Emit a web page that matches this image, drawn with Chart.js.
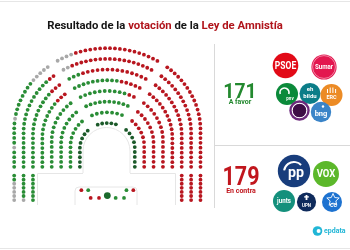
<!DOCTYPE html>
<html><head><meta charset="utf-8">
<script src="https://cdn.jsdelivr.net/npm/chart.js@4.4.1/dist/chart.umd.min.js"></script>
<style>html,body{margin:0;padding:0;background:#fff;overflow:hidden}canvas{display:block}</style>
</head><body>
<canvas id="c" width="350" height="250"></canvas>
<script>
// ===== DATA =====
const titleText = ['Resultado de la ', 'votación', ' de la ', 'Ley de Amnistía'];
const voteLabels = ['A favor', 'En contra'];
const voteTotals = [171, 179];
const favorParties = ['PSOE', 'Sumar', 'PNV', 'EH Bildu', 'ERC', 'Podemos', 'BNG'];
const contraParties = ['PP', 'VOX', 'Junts', 'UPN', 'CC'];
// seat codes: d = a favor (primera fila), g = a favor, r = en contra, x = otros, D = presidente
// rows: inner (0) -> outer (7)
const seatLeft = [          // from floor up to the left aisle
  'ddddddddd',
  'ggggggggggg',
  'ggggggggggggg',
  'ggggggggggggggg',
  'gggggggggggggggrrr',
  'gggggggggggggggggrrr',
  'ggggggggggggggggggggrr',
  'ggggxgggggxggggggggxxxxx'
];
const seatCenter = [        // left aisle -> right aisle
  'ddddd',
  'ggggggg',
  'gggggggggg',
  'ggggggggggrr',
  'ggggggggggrrrrr',
  'gggrrrrrrrrrrrrrr',
  'xxrrrrrrrrrrrrrrrrrr',
  'xxxxrrrrrrrrrrrrrrrrrr'
];
const seatRight = [         // right aisle down to the floor
  'ddddddddd',
  'rrrrrrrrrrr',
  'rrrrrrrrrrrrr',
  'rrrrrrrrrrrrrrr',
  'rrrrrrrrrrrrrrrrrr',
  'rrrrrrrrrrrrrrrrrrrr',
  'rrrrrrrrrrrrrrrrrrrrrr',
  'rrrrrrrrrrrrrrrrrrrrrrrr'
];
const blockLeft = ['ggxxxxx', 'ggggggx', 'ggggggg'];   // columns under rows 7,6,5
const blockRight = ['rrrrrrr', 'rrrrrrr', 'rrrrrrr']; // columns under rows 5,6,7
const benchTop = ['r', 'g', 'g', 'r'];
const benchBottom = ['r', 'r', 'D', 'g', 'g'];

// ===== LAYOUT / STYLE =====
const COLORS = { g: '#2a8d36', d: '#1c5a2a', r: '#b8161f', x: '#a8a8a8', D: '#1c6a2c' };
const G = { cx: 106, yBottom: 168, rows: 8, rx0: 28, rx1: 95, ry0: 26, ry1: 84, cy0: 149, cy1: 130,
            ox: 105, oy: 150, aisles: [122, 57], gap: 6, blockTop: 177, blockStep: 4.2 };

function rowParams(k) {
  const f = k / (G.rows - 1);
  return { rx: G.rx0 + (G.rx1 - G.rx0) * f, ry: G.ry0 + (G.ry1 - G.ry0) * f, cy: G.cy0 + (G.cy1 - G.cy0) * f };
}
function buildPath(k) {
  const p = rowParams(k), pts = [];
  const N = 80, M = 720;
  for (let i = 0; i <= N; i++) pts.push([G.cx - p.rx, G.yBottom - (G.yBottom - p.cy) * i / N]);
  for (let i = 1; i <= M; i++) { const t = Math.PI * (1 - i / M); pts.push([G.cx + p.rx * Math.cos(t), p.cy - p.ry * Math.sin(t)]); }
  for (let i = 1; i <= N; i++) pts.push([G.cx + p.rx, p.cy + (G.yBottom - p.cy) * i / N]);
  const s = [0];
  for (let i = 1; i < pts.length; i++) s.push(s[i - 1] + Math.hypot(pts[i][0] - pts[i - 1][0], pts[i][1] - pts[i - 1][1]));
  return { pts, s };
}
function angleAt(pt) { let a = Math.atan2(G.oy - pt[1], pt[0] - G.ox) * 180 / Math.PI; if (a < -90) a += 360; return a; }
function sAtAngle(path, deg) {
  for (let i = 1; i < path.pts.length; i++) if (angleAt(path.pts[i]) <= deg) return path.s[i];
  return path.s[path.s.length - 1];
}
function pointAt(path, sv) {
  const s = path.s, pts = path.pts;
  let i = 1; while (i < s.length - 1 && s[i] < sv) i++;
  const f = (sv - s[i - 1]) / ((s[i] - s[i - 1]) || 1);
  return [pts[i - 1][0] + (pts[i][0] - pts[i - 1][0]) * f, pts[i - 1][1] + (pts[i][1] - pts[i - 1][1]) * f];
}
const seats = [];
function place(path, s0, s1, codes) {
  const n = codes.length;
  for (let i = 0; i < n; i++) {
    const sv = n === 1 ? (s0 + s1) / 2 : s0 + (s1 - s0) * i / (n - 1);
    const [x, y] = pointAt(path, sv);
    seats.push({ x, y, code: codes[i] });
  }
}
for (let k = 0; k < G.rows; k++) {
  const path = buildPath(k);
  const total = path.s[path.s.length - 1];
  const sA = sAtAngle(path, G.aisles[0]), sB = sAtAngle(path, G.aisles[1]);
  place(path, 0, sA - G.gap, seatLeft[k]);
  place(path, sA + G.gap, sB - G.gap, seatCenter[k]);
  place(path, sB + G.gap, total, seatRight[k]);
}
blockLeft.forEach((col, j) => {
  const p = rowParams(G.rows - 1 - j);
  [...col].forEach((c, i) => seats.push({ x: G.cx - p.rx, y: G.blockTop + i * G.blockStep, code: c }));
});
blockRight.forEach((col, j) => {
  const p = rowParams(G.rows - 3 + j);
  [...col].forEach((c, i) => seats.push({ x: G.cx + p.rx, y: G.blockTop + i * G.blockStep, code: c }));
});
benchTop.forEach((c, i) => {
  const x = i < 2 ? G.cx - 26.5 + i * 7 : G.cx + 19.5 + (i - 2) * 7;
  seats.push({ x, y: 192, code: c });
});
benchBottom.forEach((c, i) => seats.push({ x: G.cx + (i - 2) * 8.5, y: c === 'D' ? 197.5 : 200, code: c }));

const datasets = Object.keys(COLORS).map(code => ({
  label: code,
  data: seats.filter(s => s.code === code).map(s => ({ x: s.x, y: s.y })),
  pointRadius: code === 'D' ? 3.4 : 1.9,
  pointHoverRadius: 0,
  pointBackgroundColor: COLORS[code],
  pointBorderWidth: 0,
  pointBorderColor: COLORS[code],
  showLine: false
}));

// ===== DECORATION =====
function circle(ctx, x, y, r, fill) { ctx.beginPath(); ctx.arc(x, y, r, 0, Math.PI * 2); ctx.fillStyle = fill; ctx.fill(); }
function txt(ctx, s, x, y, font, color, sx) {
  ctx.save(); ctx.font = font; ctx.fillStyle = color; ctx.textAlign = 'center'; ctx.textBaseline = 'middle';
  ctx.translate(x, y); ctx.scale(sx || 1, 1); ctx.fillText(s, 0, 0); ctx.restore();
}
const decor = {
  id: 'decor',
  beforeDatasetsDraw(chart) {
    const ctx = chart.ctx;
    ctx.save();
    ctx.strokeStyle = '#e6e6e6'; ctx.lineWidth = 1;
    ctx.beginPath(); ctx.moveTo(0, 1.5); ctx.lineTo(350, 1.5); ctx.moveTo(0, 248.5); ctx.lineTo(350, 248.5); ctx.stroke();
    ctx.beginPath();
    ctx.moveTo(83, 173); ctx.lineTo(83, 151); ctx.arc(106.5, 151, 23.5, Math.PI, 0); ctx.lineTo(130, 173);
    ctx.moveTo(37.5, 205); ctx.lineTo(37.5, 173.5); ctx.lineTo(83, 173.5);
    ctx.moveTo(130, 173.5); ctx.lineTo(175.5, 173.5); ctx.lineTo(175.5, 205);
    ctx.moveTo(75, 205); ctx.lineTo(75, 191); ctx.quadraticCurveTo(75, 187, 79, 187); ctx.lineTo(133, 187);
    ctx.quadraticCurveTo(137, 187, 137, 191); ctx.lineTo(137, 205);
    ctx.stroke();
    // panel dividers
    ctx.strokeStyle = '#d9d9d9';
    ctx.beginPath(); ctx.moveTo(214.5, 44); ctx.lineTo(214.5, 208); ctx.moveTo(214, 145.5); ctx.lineTo(350, 145.5); ctx.stroke();
    ctx.restore();
  },
  afterDatasetsDraw(chart) {
    const ctx = chart.ctx;
    ctx.save();
    // title
    const colors = ['#151515', '#b0141b', '#151515', '#b0141b'];
    ctx.font = 'bold 12px Roboto';
    let w = titleText.reduce((a, s) => a + ctx.measureText(s).width, 0);
    const size = 12 * 236 / w;
    ctx.font = `bold ${size}px Roboto`;
    w = titleText.reduce((a, s) => a + ctx.measureText(s).width, 0);
    let x = 165 - w / 2;
    ctx.textBaseline = 'alphabetic'; ctx.textAlign = 'left';
    titleText.forEach((s, i) => { ctx.fillStyle = colors[i]; ctx.fillText(s, x, 29); x += ctx.measureText(s).width; });
    // totals
    ctx.textAlign = 'center';
    ctx.save(); ctx.translate(240, 97.5); ctx.scale(0.92, 1); ctx.font = 'bold 21px Roboto'; ctx.fillStyle = '#23892f'; ctx.fillText(String(voteTotals[0]), 0, 0); ctx.restore();
    ctx.font = 'bold 7px Roboto'; ctx.fillStyle = '#23892f'; ctx.fillText(voteLabels[0], 240, 104);
    ctx.save(); ctx.translate(241, 185); ctx.scale(0.86, 1); ctx.font = 'bold 25px Roboto'; ctx.fillStyle = '#c1161d'; ctx.fillText(String(voteTotals[1]), 0, 0); ctx.restore();
    ctx.font = 'bold 7px Roboto'; ctx.fillStyle = '#c1161d'; ctx.fillText(voteLabels[1], 241, 193);
    ctx.restore();

    // favour logos
    const W = '#ffffff';
    circle(ctx, 285.5, 65.5, 12.8, '#e20a17'); txt(ctx, favorParties[0], 285.5, 66, 'bold 10px Roboto', W, 0.85);
    circle(ctx, 324, 67, 12.6, '#e3174f'); 
    ctx.save(); ctx.strokeStyle = 'rgba(255,255,255,0.6)'; ctx.lineWidth = 0.8; ctx.beginPath(); ctx.arc(324, 67, 11.4, 0, Math.PI * 2); ctx.stroke(); ctx.restore();
    txt(ctx, favorParties[1], 324, 67.5, 'bold 6.5px Roboto', W, 0.95);
    circle(ctx, 287, 94, 11, '#0b8a3a');
    ctx.save(); ctx.strokeStyle = W; ctx.lineWidth = 1.6; ctx.beginPath(); ctx.arc(284.5, 92.5, 4.5, Math.PI * 0.9, Math.PI * 2.1); ctx.stroke(); ctx.restore();
    txt(ctx, 'pnv', 290, 99, 'bold 4.5px Roboto', W);
    circle(ctx, 310, 93.5, 10.5, '#0b7d88');
    txt(ctx, 'eh', 310, 89.5, 'bold 6px Roboto', W); txt(ctx, 'bildu', 310, 96.5, 'bold 6px Roboto', W);
    circle(ctx, 331.5, 95, 11, '#ec8b25');
    ctx.save(); ctx.strokeStyle = W; ctx.lineWidth = 1; ctx.beginPath();
    for (let i = 0; i < 4; i++) { ctx.moveTo(327.5 + i * 2.7, 87.5 + (i === 0 || i === 3 ? 1.5 : 0)); ctx.lineTo(327.5 + i * 2.7, 93); }
    ctx.stroke(); ctx.restore();
    txt(ctx, favorParties[4], 331.5, 98, 'bold 5.5px Roboto', W);
    circle(ctx, 299.5, 110.5, 10.2, '#6d2a7c');
    ctx.save(); ctx.strokeStyle = W; ctx.lineWidth = 1.1; ctx.beginPath(); ctx.arc(299.5, 110.5, 7.3, 0, Math.PI * 2); ctx.stroke(); ctx.restore();
    circle(ctx, 299.5, 110.5, 6.6, '#3e0e46');
    circle(ctx, 321, 112, 10.2, '#3a84c8');
    txt(ctx, 'bng', 321, 114, 'bold 7.5px Roboto', W);
    circle(ctx, 323, 106.5, 1.2, W);

    // against logos
    circle(ctx, 294, 171, 16.2, '#183d7c');
    ctx.save(); ctx.strokeStyle = W; ctx.lineWidth = 2; ctx.beginPath(); ctx.arc(294, 172, 10, Math.PI * 1.05, Math.PI * 1.75); ctx.stroke(); ctx.restore();
    txt(ctx, 'pp', 296, 173, 'bold 15px Roboto', W, 0.95);
    circle(ctx, 326, 174, 13, '#5cb82b');
    txt(ctx, 'VOX', 326, 174.5, 'bold 10px Roboto', W, 0.95);
    circle(ctx, 284, 201, 11, '#14907c');
    txt(ctx, 'junts', 284, 201.5, 'bold 6.5px Roboto', W, 0.95);
    circle(ctx, 306.5, 202, 9.6, '#0f2b5c');
    txt(ctx, contraParties[3], 306.5, 205.5, 'bold 4.5px Roboto', W);
    ctx.save(); ctx.fillStyle = W; ctx.fillRect(305.6, 195, 1.8, 5); ctx.fillRect(304.2, 196.2, 4.6, 1.4); ctx.restore();
    circle(ctx, 332, 202, 10, '#1d72d0');
    ctx.save(); ctx.strokeStyle = W; ctx.lineWidth = 0.9; ctx.beginPath();
    for (let i = 0; i < 10; i++) { const a = -Math.PI / 2 + i * Math.PI / 5, rr = i % 2 ? 3 : 6.5; const px = 333 + rr * Math.cos(a), py = 200 + rr * Math.sin(a); i ? ctx.lineTo(px, py) : ctx.moveTo(px, py); }
    ctx.closePath(); ctx.stroke(); ctx.restore();
    txt(ctx, contraParties[4], 333.5, 205.5, 'bold 5.5px Roboto', W);

    // epdata brand
    circle(ctx, 317.5, 231, 4.8, '#21b6d6');
    circle(ctx, 318.6, 231, 2, W);
    ctx.save(); ctx.font = 'bold 7px Roboto'; ctx.fillStyle = '#21b6d6'; ctx.textAlign = 'left'; ctx.textBaseline = 'middle';
    ctx.fillText('epdata', 324, 231); ctx.restore();
  }
};

new Chart(document.getElementById('c').getContext('2d'), {
  type: 'scatter',
  data: { datasets },
  options: {
    responsive: false, animation: false, events: [],
    layout: { padding: 0 },
    scales: {
      x: { type: 'linear', min: 0, max: 350, display: false },
      y: { type: 'linear', min: 0, max: 250, reverse: true, display: false }
    },
    plugins: { legend: { display: false }, tooltip: { enabled: false } }
  },
  plugins: [decor]
});
</script>
</body></html>
